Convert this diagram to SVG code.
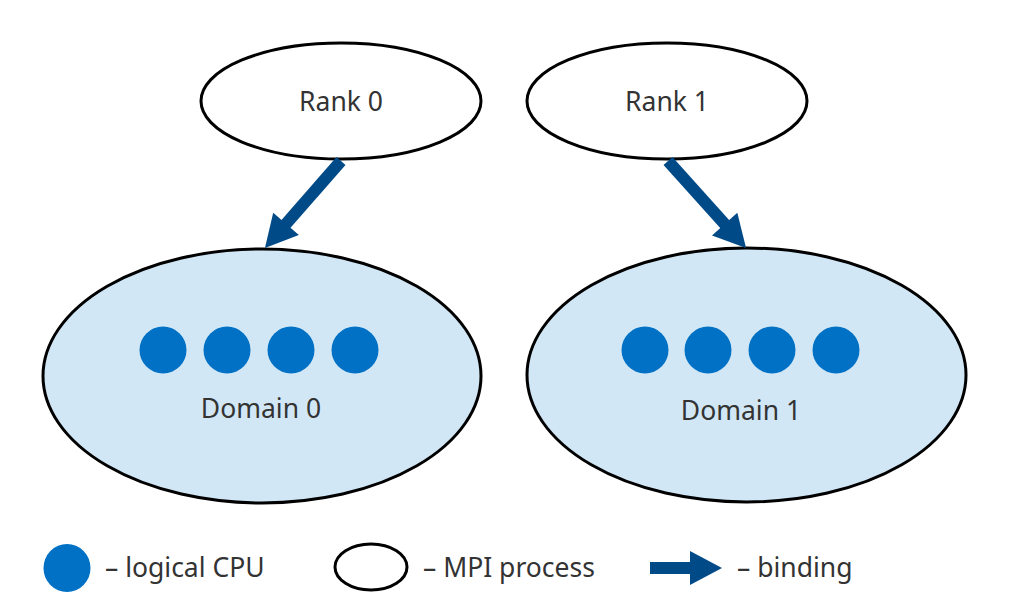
<svg xmlns="http://www.w3.org/2000/svg" width="1012" height="615" viewBox="0 0 1012 615">
<style>
.proc{fill:#ffffff;stroke:#000;stroke-width:3}
.dom{fill:#d1e7f6;stroke:#000;stroke-width:3}
.cpu{fill:#0071c5}
.lbl{font-family:"Noto Sans","Open Sans",sans-serif;font-size:26.5px;fill:#333;}
.bind{stroke:#004a87;stroke-width:12;fill:none}
</style>
<defs>
<marker id="ah" markerUnits="userSpaceOnUse" markerWidth="32" markerHeight="34" viewBox="0 -17 32 34" refX="2" refY="0" orient="auto" overflow="visible">
<path d="M0,-17 L32,0 L0,17 z" fill="#004a87"/>
</marker>
</defs>
<rect width="1012" height="615" fill="#fff"/>
<g id="rank0">
<ellipse class="proc" cx="341" cy="101" rx="140" ry="58"/>
<text class="lbl" x="341" y="111" text-anchor="middle">Rank 0</text>
</g>
<g id="rank1">
<ellipse class="proc" cx="667" cy="101" rx="140" ry="58"/>
<text class="lbl" x="667" y="111" text-anchor="middle">Rank 1</text>
</g>
<g id="domain0">
<ellipse class="dom" cx="262" cy="376" rx="219" ry="127"/>
<circle class="cpu" cx="163" cy="350" r="23.5"/>
<circle class="cpu" cx="227" cy="350" r="23.5"/>
<circle class="cpu" cx="291" cy="350" r="23.5"/>
<circle class="cpu" cx="355" cy="350" r="23.5"/>
<text class="lbl" x="261" y="418" text-anchor="middle">Domain 0</text>
</g>
<g id="domain1">
<ellipse class="dom" cx="746.5" cy="375" rx="219.5" ry="127"/>
<circle class="cpu" cx="645" cy="350" r="23.5"/>
<circle class="cpu" cx="708" cy="350" r="23.5"/>
<circle class="cpu" cx="772" cy="350" r="23.5"/>
<circle class="cpu" cx="836" cy="350" r="23.5"/>
<text class="lbl" x="741" y="420" text-anchor="middle">Domain 1</text>
</g>
<g id="connectors">
<path class="bind" d="M341,161 L284.7,225.4" marker-end="url(#ah)"/>
<path class="bind" d="M668,161 L726,225.6" marker-end="url(#ah)"/>
</g>
<g id="legend">
<ellipse class="cpu" cx="67" cy="568" rx="23.5" ry="24"/>
<text class="lbl" x="105" y="577">– logical CPU</text>
<ellipse class="proc" cx="371" cy="567" rx="36" ry="23"/>
<text class="lbl" x="423" y="577">– MPI process</text>
<path class="bind" d="M650,568 L692,568" marker-end="url(#ah)"/>
<text class="lbl" x="737" y="577">– binding</text>
</g>
</svg>
